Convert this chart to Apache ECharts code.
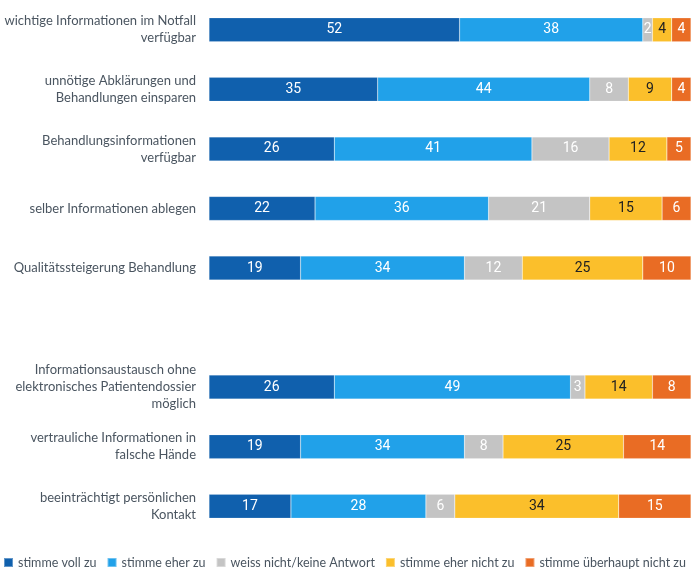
<!DOCTYPE html>
<html>
<head>
<meta charset="utf-8">
<script src="https://cdn.jsdelivr.net/npm/echarts@6/dist/echarts.min.js"></script>
<style>
  html, body { margin: 0; padding: 0; background: #fff; }
  #chart { width: 694px; height: 572px; }
</style>
</head>
<body>
<div id="chart"></div>
<script>
  var categories = [
    'wichtige Informationen im Notfall\nverfügbar',
    'unnötige Abklärungen und\nBehandlungen einsparen',
    'Behandlungsinformationen\nverfügbar',
    'selber Informationen ablegen',
    'Qualitätssteigerung Behandlung',
    '',
    'Informationsaustausch ohne\nelektronisches Patientendossier\nmöglich',
    'vertrauliche Informationen in\nfalsche Hände',
    'beeinträchtigt persönlichen\nKontakt'
  ]
  var seriesNames = ['stimme voll zu', 'stimme eher zu', 'weiss nicht/keine Antwort', 'stimme eher nicht zu', 'stimme überhaupt nicht zu']
  var vollZu = [52, 35, 26, 22, 19, null, 26, 19, 17]
  var eherZu = [38, 44, 41, 36, 34, null, 49, 34, 28]
  var weissNicht = [2, 8, 16, 21, 12, null, 3, 8, 6]
  var eherNicht = [4, 9, 12, 15, 25, null, 14, 25, 34]
  var ueberhauptNicht = [4, 4, 5, 6, 10, null, 8, 14, 15]

  var colors = ['#1060ad', '#21a1e9', '#c4c4c4', '#fbbf2b', '#e96c24']
  var labelColors = ['#fff', '#fff', '#fff', '#222', '#fff']
  var values = [vollZu, eherZu, weissNicht, eherNicht, ueberhauptNicht]

  var chart = echarts.init(document.getElementById('chart'))

  chart.setOption({
    backgroundColor: '#fff',
    animation: false,
    legend: {
      bottom: 3,
      left: 3,
      width: 691,
      padding: 0,
      itemWidth: 9,
      itemHeight: 9,
      itemGap: 10,
      icon: 'rect',
      data: seriesNames,
      textStyle: { fontSize: 12.5, color: '#4a5560', fontFamily: 'Lato' }
    },
    grid: {
      top: 0,
      left: 209,
      right: 3,
      bottom: 36,
      outerBoundsMode: 'none'
    },
    xAxis: {
      type: 'value',
      min: 0,
      max: 100,
      show: false
    },
    yAxis: {
      type: 'category',
      inverse: true,
      data: categories,
      axisLine: { show: false },
      axisTick: { show: false },
      splitLine: { show: false },
      axisLabel: {
        margin: 13,
        fontSize: 13,
        lineHeight: 17,
        color: '#4a5560',
        fontFamily: 'Lato'
      }
    },
    series: values.map(function (v, i) {
      return {
        name: seriesNames[i],
        type: 'bar',
        stack: 'total',
        barWidth: 24,
        data: v,
        itemStyle: { color: colors[i], borderColor: 'rgba(255,255,255,0.35)', borderWidth: 0.5 },
        label: {
          show: true,
          position: 'inside',
          color: labelColors[i],
          fontSize: 14,
          fontFamily: 'Roboto'
        }
      }
    })
  })
</script>
</body>
</html>
